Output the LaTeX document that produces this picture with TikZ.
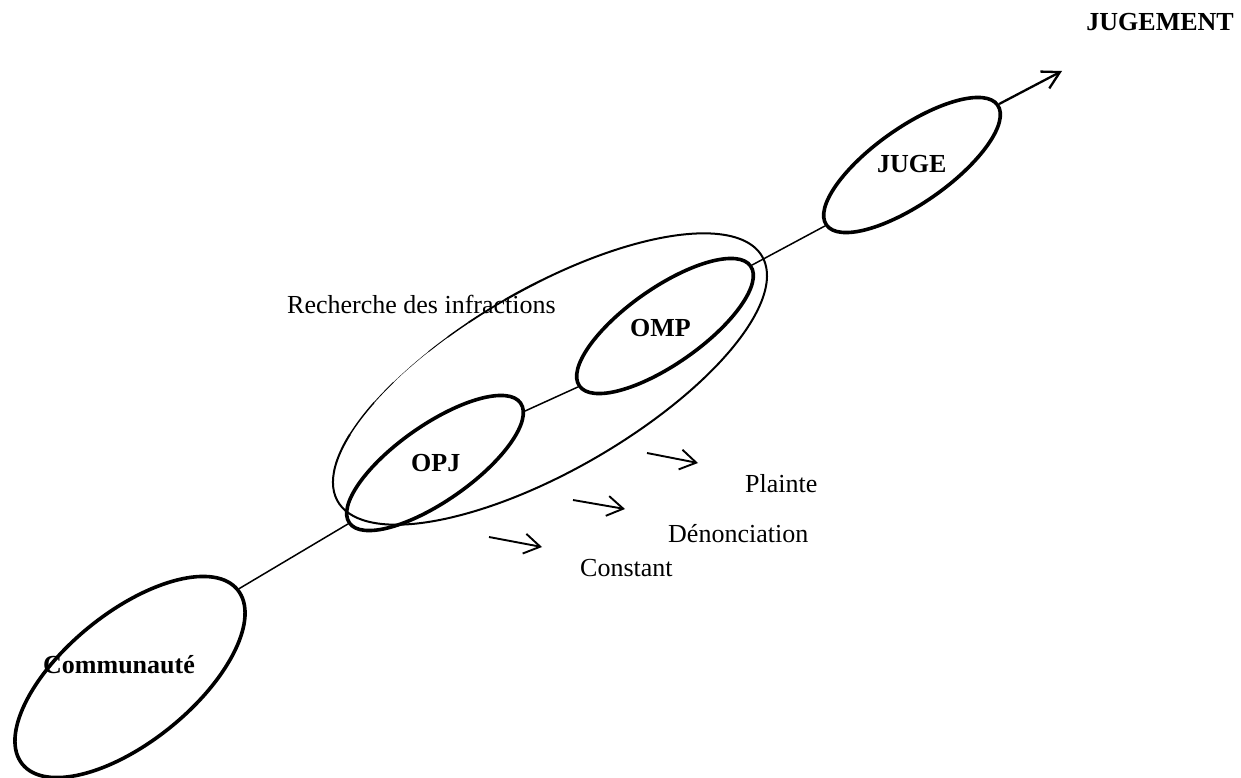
\documentclass[tikz,border=0pt]{standalone}
\usepackage{fontspec}
\setmainfont{Liberation Serif}
\usetikzlibrary{arrows.meta,shapes.geometric}

\begin{document}
\begin{tikzpicture}[x=1pt,y=-1pt,
  oval/.style={draw, shape=ellipse, line width=3.6pt, inner sep=0pt},
  actor/.style={oval, rotate=35, minimum width=209pt, minimum height=76pt},
  lbl/.style={inner sep=0pt, font=\fontsize{26pt}{31pt}\selectfont},
  blbl/.style={inner sep=0pt, font=\fontsize{26pt}{31pt}\selectfont\bfseries},
  link/.style={line width=1.5pt},
  hint/.style={line width=1.9pt, -{Straight Barb[length=16pt,width=20pt]}},
]
\useasboundingbox (0,0) rectangle (1241,778);

% labels
\node[lbl,  anchor=base west] (rechtxt) at (287,313) {Recherche des infractions};
\node[blbl, anchor=base east] (jugement) at (1234,31) {JUGEMENT};
\node[blbl, anchor=base west] (commtxt) at (43,673) {Communauté};
\node[blbl, anchor=base west] (opjtxt) at (411,471) {OPJ};
\node[blbl, anchor=base west] (omptxt) at (630,336) {OMP};
\node[blbl, anchor=base west] (jugetxt) at (877,172) {JUGE};
\node[lbl,  anchor=base west] (plainte) at (745,492) {Plainte};
\node[lbl,  anchor=base west] (denon) at (668,542) {Dénonciation};
\node[lbl,  anchor=base west] (constant) at (580,576) {Constant};

% actors
\node[oval, rotate=39, minimum width=277pt, minimum height=129pt] (comm) at (130,677) {};
\node[actor] (opj) at (435,463) {};
\node[actor] (omp) at (665,326) {};
\node[actor] (juge) at (912,165) {};

% the investigation zone, a hand-drawn oval with a tapering stroke
\node[shape=ellipse, rotate=30, inner sep=0pt, minimum width=490pt,
      minimum height=182pt] (rech) at (550,379) {};
\begin{scope}[shift={(rech.center)}, rotate=30]
  \foreach \s/\e/\w in {145/440/2.0, 80/90/2.2, 90/100/1.8, 100/106/1.4,
                        106/112/0.9, 112/118/0.4, 118/124/0.3, 124/132/0.8,
                        132/145/1.4}
    \draw[line width=\w pt] (\s:245pt and 91pt)
      arc[start angle=\s, end angle=\e, x radius=245pt, y radius=91pt];
\end{scope}

% the chain of the procedure
\coordinate (jend) at (1062,71);
\draw[link] (comm.east) -- (opj.west);
\draw[link] (opj.-5) -- (omp.west);
\draw[link] (omp.east) -- (juge.west);
\draw[line width=2.3pt, -{Straight Barb[length=17pt,width=19pt]}] (juge.east) -- (jend);

% ways a case reaches the investigators
\coordinate (p1) at (647,453); \coordinate (p2) at (698,463);
\coordinate (d1) at (573,500); \coordinate (d2) at (625,509);
\coordinate (c1) at (489,537); \coordinate (c2) at (542,547);
\draw[hint] (p1) -- (p2);
\draw[hint] (d1) -- (d2);
\draw[hint] (c1) -- (c2);
\end{tikzpicture}
\end{document}
